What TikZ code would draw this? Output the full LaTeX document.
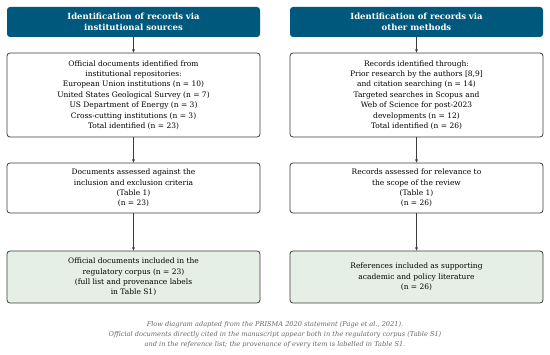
\documentclass[tikz,border=0pt]{standalone}
\usepackage{fontspec}
\setmainfont{DejaVu Serif}
\usetikzlibrary{arrows.meta,positioning}
\definecolor{headblue}{RGB}{0,88,124}
\definecolor{inclgreen}{RGB}{230,239,230}
\definecolor{boxline}{RGB}{60,60,60}
\tikzset{
  header/.style={fill=headblue, rounded corners=3pt, text=white, align=center,
    minimum width=253pt, minimum height=30pt, inner sep=0pt,
    font=\fontsize{8.5}{11}\selectfont\bfseries},
  procbox/.style={draw=boxline, line width=0.8pt, fill=white, rounded corners=3pt,
    align=center, minimum width=253pt, inner sep=0pt,
    font=\fontsize{7.5}{10.4}\selectfont},
  inclbox/.style={procbox, fill=inclgreen},
  flow/.style={-{Stealth[length=3.5pt,width=3pt]}, line width=0.7pt, draw=boxline}
}
\begin{document}
\begin{tikzpicture}[x=1pt,y=-1pt]
\useasboundingbox (0,0) rectangle (550,355);
% left column
\node[header] (idL) at (133.5,22) {Identification of records via\\institutional sources};
\node[procbox, minimum height=84pt] (recL) at (133.5,95) {Official documents identified from\\institutional repositories:\\European Union institutions (n = 10)\\United States Geological Survey (n = 7)\\US Department of Energy (n = 3)\\Cross-cutting institutions (n = 3)\\Total identified (n = 23)};
\node[procbox, minimum height=50pt] (asL) at (133.5,188) {Documents assessed against the\\inclusion and exclusion criteria\\(Table 1)\\(n = 23)};
\node[inclbox, minimum height=52pt] (inL) at (133.5,277) {Official documents included in the\\regulatory corpus (n = 23)\\(full list and provenance labels\\in Table S1)};
% right column
\node[header] (idR) at (416.5,22) {Identification of records via\\other methods};
\node[procbox, minimum height=84pt] (recR) at (416.5,95) {Records identified through:\\Prior research by the authors [8,9]\\and citation searching (n = 14)\\Targeted searches in Scopus and\\Web of Science for post-2023\\developments (n = 12)\\Total identified (n = 26)};
\node[procbox, minimum height=50pt] (asR) at (416.5,188) {Records assessed for relevance to\\the scope of the review\\(Table 1)\\(n = 26)};
\node[inclbox, minimum height=52pt] (inR) at (416.5,277) {References included as supporting\\academic and policy literature\\(n = 26)};
% arrows
\draw[flow] (idL) -- (recL);
\draw[flow] (recL) -- (asL);
\draw[flow] (asL) -- (inL);
\draw[flow] (idR) -- (recR);
\draw[flow] (recR) -- (asR);
\draw[flow] (asR) -- (inR);
% caption
\node[align=center, text=black!60, font=\fontsize{6.6}{10.2}\selectfont\itshape] (cap) at (275,335)
  {Flow diagram adapted from the PRISMA 2020 statement (Page et al., 2021).\\Official documents directly cited in the manuscript appear both in the regulatory corpus (Table S1)\\and in the reference list; the provenance of every item is labelled in Table S1.};
\end{tikzpicture}
\end{document}
